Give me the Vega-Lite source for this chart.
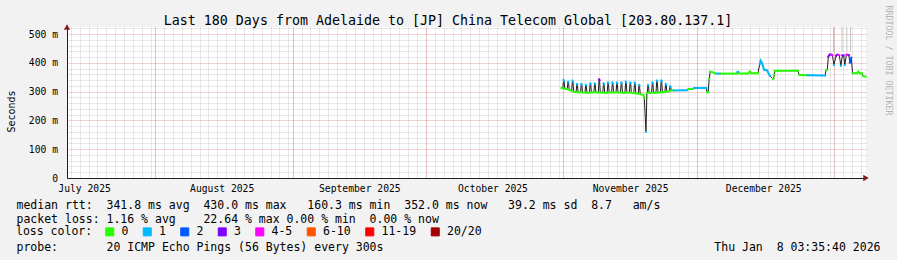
{
  "$schema": "https://vega.github.io/schema/vega-lite/v6.json",
  "width": 799,
  "height": 151,
  "autosize": {"type": "none"},
  "padding": {"left": 67, "top": 27, "right": 31, "bottom": 82},
  "background": "#f2f2f2",
  "view": {"fill": "#ffffff", "stroke": null},
  "config": {
    "font": "DejaVu Sans Mono",
    "axis": {"labelFont": "DejaVu Sans Mono", "titleFont": "DejaVu Sans Mono", "labelColor": "#000000", "titleColor": "#000000", "titleFontWeight": "normal", "domainColor": "#1f1f1f", "tickSize": 0, "ticks": false},
    "legend": {"labelFont": "DejaVu Sans Mono", "titleFont": "DejaVu Sans Mono"}
  },
  "datasets": {
    "median": [
      {"t":"2025-10-31T13:00Z","v":313,"loss":"0","seg":"g0"},
      {"t":"2025-10-31T20:00Z","v":312,"loss":"0","seg":"g0"},
      {"t":"2025-11-01T00:30Z","v":341,"loss":"1","seg":"p0"},
      {"t":"2025-11-01T03:00Z","v":338,"loss":"1","seg":"p0"},
      {"t":"2025-11-01T07:00Z","v":310,"loss":"0","seg":"g1"},
      {"t":"2025-11-01T20:00Z","v":309,"loss":"0","seg":"g1"},
      {"t":"2025-11-02T00:30Z","v":335,"loss":"1","seg":"p1"},
      {"t":"2025-11-02T03:00Z","v":333,"loss":"1","seg":"p1"},
      {"t":"2025-11-02T07:00Z","v":306,"loss":"0","seg":"g2"},
      {"t":"2025-11-02T20:00Z","v":303,"loss":"0","seg":"g2"},
      {"t":"2025-11-03T00:30Z","v":339,"loss":"1","seg":"p2"},
      {"t":"2025-11-03T03:00Z","v":336,"loss":"1","seg":"p2"},
      {"t":"2025-11-03T07:00Z","v":300,"loss":"0","seg":"g3"},
      {"t":"2025-11-03T20:00Z","v":299,"loss":"0","seg":"g3"},
      {"t":"2025-11-04T00:30Z","v":327,"loss":"1","seg":"p3"},
      {"t":"2025-11-04T03:00Z","v":325,"loss":"1","seg":"p3"},
      {"t":"2025-11-04T07:00Z","v":298,"loss":"0","seg":"g4"},
      {"t":"2025-11-04T20:00Z","v":298,"loss":"0","seg":"g4"},
      {"t":"2025-11-05T00:30Z","v":327,"loss":"1","seg":"p4"},
      {"t":"2025-11-05T03:00Z","v":325,"loss":"1","seg":"p4"},
      {"t":"2025-11-05T07:00Z","v":297,"loss":"0","seg":"g5"},
      {"t":"2025-11-05T20:00Z","v":297,"loss":"0","seg":"g5"},
      {"t":"2025-11-06T00:30Z","v":324,"loss":"1","seg":"p5"},
      {"t":"2025-11-06T03:00Z","v":322,"loss":"1","seg":"p5"},
      {"t":"2025-11-06T07:00Z","v":296,"loss":"0","seg":"g6"},
      {"t":"2025-11-06T20:00Z","v":297,"loss":"0","seg":"g6"},
      {"t":"2025-11-07T00:30Z","v":329,"loss":"1","seg":"p6"},
      {"t":"2025-11-07T03:00Z","v":327,"loss":"1","seg":"p6"},
      {"t":"2025-11-07T07:00Z","v":297,"loss":"0","seg":"g7"},
      {"t":"2025-11-07T20:00Z","v":298,"loss":"0","seg":"g7"},
      {"t":"2025-11-08T00:30Z","v":329,"loss":"1","seg":"p7"},
      {"t":"2025-11-08T03:00Z","v":327,"loss":"1","seg":"p7"},
      {"t":"2025-11-08T07:00Z","v":298,"loss":"0","seg":"g8"},
      {"t":"2025-11-08T20:00Z","v":297,"loss":"0","seg":"g8"},
      {"t":"2025-11-09T00:30Z","v":343,"loss":"3","seg":"p8"},
      {"t":"2025-11-09T03:00Z","v":340,"loss":"3","seg":"p8"},
      {"t":"2025-11-09T07:00Z","v":297,"loss":"0","seg":"g9"},
      {"t":"2025-11-09T20:00Z","v":297,"loss":"0","seg":"g9"},
      {"t":"2025-11-10T00:30Z","v":329,"loss":"1","seg":"p9"},
      {"t":"2025-11-10T03:00Z","v":327,"loss":"1","seg":"p9"},
      {"t":"2025-11-10T07:00Z","v":296,"loss":"0","seg":"g10"},
      {"t":"2025-11-10T20:00Z","v":296,"loss":"0","seg":"g10"},
      {"t":"2025-11-11T00:30Z","v":332,"loss":"1","seg":"p10"},
      {"t":"2025-11-11T03:00Z","v":330,"loss":"1","seg":"p10"},
      {"t":"2025-11-11T07:00Z","v":297,"loss":"0","seg":"g11"},
      {"t":"2025-11-11T20:00Z","v":297,"loss":"0","seg":"g11"},
      {"t":"2025-11-12T00:30Z","v":332,"loss":"1","seg":"p11"},
      {"t":"2025-11-12T03:00Z","v":330,"loss":"1","seg":"p11"},
      {"t":"2025-11-12T07:00Z","v":297,"loss":"0","seg":"g12"},
      {"t":"2025-11-12T20:00Z","v":298,"loss":"0","seg":"g12"},
      {"t":"2025-11-13T00:30Z","v":332,"loss":"1","seg":"p12"},
      {"t":"2025-11-13T03:00Z","v":329,"loss":"1","seg":"p12"},
      {"t":"2025-11-13T07:00Z","v":298,"loss":"0","seg":"g13"},
      {"t":"2025-11-13T20:00Z","v":297,"loss":"0","seg":"g13"},
      {"t":"2025-11-14T00:30Z","v":332,"loss":"1","seg":"p13"},
      {"t":"2025-11-14T03:00Z","v":330,"loss":"1","seg":"p13"},
      {"t":"2025-11-14T07:00Z","v":296,"loss":"0","seg":"g14"},
      {"t":"2025-11-14T20:00Z","v":296,"loss":"0","seg":"g14"},
      {"t":"2025-11-15T00:30Z","v":335,"loss":"1","seg":"p14"},
      {"t":"2025-11-15T03:00Z","v":332,"loss":"1","seg":"p14"},
      {"t":"2025-11-15T07:00Z","v":297,"loss":"0","seg":"g15"},
      {"t":"2025-11-15T20:00Z","v":297,"loss":"0","seg":"g15"},
      {"t":"2025-11-16T00:30Z","v":332,"loss":"1","seg":"p15"},
      {"t":"2025-11-16T03:00Z","v":330,"loss":"1","seg":"p15"},
      {"t":"2025-11-16T07:00Z","v":296,"loss":"0","seg":"g16"},
      {"t":"2025-11-16T20:00Z","v":295,"loss":"0","seg":"g16"},
      {"t":"2025-11-17T00:30Z","v":332,"loss":"1","seg":"p16"},
      {"t":"2025-11-17T03:00Z","v":329,"loss":"1","seg":"p16"},
      {"t":"2025-11-17T07:00Z","v":294,"loss":"0","seg":"g17"},
      {"t":"2025-11-17T20:00Z","v":293,"loss":"0","seg":"g17"},
      {"t":"2025-11-18T00:30Z","v":324,"loss":"1","seg":"p17"},
      {"t":"2025-11-18T03:00Z","v":322,"loss":"1","seg":"p17"},
      {"t":"2025-11-18T07:00Z","v":291,"loss":"0","seg":"g18"},
      {"t":"2025-11-19T00:00Z","v":289,"loss":"0","seg":"g18"},
      {"t":"2025-11-19T05:00Z","v":277,"loss":"0","seg":"g18"},
      {"t":"2025-11-19T14:00Z","v":160.3,"loss":"1","seg":"d1"},
      {"t":"2025-11-19T19:00Z","v":296,"loss":"0","seg":"g19"},
      {"t":"2025-11-19T21:00Z","v":296,"loss":"0","seg":"g19"},
      {"t":"2025-11-20T00:30Z","v":324,"loss":"1","seg":"p19"},
      {"t":"2025-11-20T03:00Z","v":322,"loss":"1","seg":"p19"},
      {"t":"2025-11-20T07:00Z","v":296,"loss":"0","seg":"g20"},
      {"t":"2025-11-20T20:00Z","v":296,"loss":"0","seg":"g20"},
      {"t":"2025-11-21T00:30Z","v":332,"loss":"1","seg":"p20"},
      {"t":"2025-11-21T03:00Z","v":330,"loss":"1","seg":"p20"},
      {"t":"2025-11-21T07:00Z","v":296,"loss":"0","seg":"g21"},
      {"t":"2025-11-21T20:00Z","v":297,"loss":"0","seg":"g21"},
      {"t":"2025-11-22T00:30Z","v":339,"loss":"1","seg":"p21"},
      {"t":"2025-11-22T03:00Z","v":336,"loss":"1","seg":"p21"},
      {"t":"2025-11-22T07:00Z","v":297,"loss":"0","seg":"g22"},
      {"t":"2025-11-22T20:00Z","v":298,"loss":"0","seg":"g22"},
      {"t":"2025-11-23T00:30Z","v":339,"loss":"1","seg":"p22"},
      {"t":"2025-11-23T03:00Z","v":337,"loss":"1","seg":"p22"},
      {"t":"2025-11-23T07:00Z","v":298,"loss":"0","seg":"g23"},
      {"t":"2025-11-23T20:00Z","v":299,"loss":"0","seg":"g23"},
      {"t":"2025-11-24T00:30Z","v":327,"loss":"1","seg":"p23"},
      {"t":"2025-11-24T03:00Z","v":325,"loss":"1","seg":"p23"},
      {"t":"2025-11-24T07:00Z","v":300,"loss":"0","seg":"g24"},
      {"t":"2025-11-24T20:00Z","v":301,"loss":"0","seg":"g24"},
      {"t":"2025-11-25T00:30Z","v":319,"loss":"1","seg":"p24"},
      {"t":"2025-11-25T03:00Z","v":317,"loss":"1","seg":"p24"},
      {"t":"2025-11-25T07:00Z","v":304,"loss":"0","seg":"g25"},
      {"t":"2025-11-25T17:00Z","v":305,"loss":"0","seg":"g25"},
      {"t":"2025-11-25T20:00Z","v":304,"loss":"1","seg":"b1"},
      {"t":"2025-11-28T21:00Z","v":305,"loss":"1","seg":"b1"},
      {"t":"2025-11-29T02:00Z","v":309,"loss":"0","seg":"g26"},
      {"t":"2025-11-30T05:00Z","v":310,"loss":"0","seg":"g26"},
      {"t":"2025-11-30T10:00Z","v":313,"loss":"1","seg":"b2"},
      {"t":"2025-12-03T04:00Z","v":313,"loss":"1","seg":"b2"},
      {"t":"2025-12-03T08:00Z","v":298,"loss":"0","seg":"g27"},
      {"t":"2025-12-03T14:00Z","v":298,"loss":"0","seg":"g27"},
      {"t":"2025-12-03T20:00Z","v":345,"loss":"0","seg":"r1"},
      {"t":"2025-12-04T01:00Z","v":370,"loss":"0","seg":"g28"},
      {"t":"2025-12-04T12:00Z","v":368,"loss":"0","seg":"g28"},
      {"t":"2025-12-05T04:00Z","v":364,"loss":"0","seg":"g28"},
      {"t":"2025-12-05T12:00Z","v":363,"loss":"1","seg":"b3"},
      {"t":"2025-12-06T06:00Z","v":363,"loss":"1","seg":"b3"},
      {"t":"2025-12-06T12:00Z","v":363,"loss":"0","seg":"g29"},
      {"t":"2025-12-10T02:00Z","v":363,"loss":"0","seg":"g29"},
      {"t":"2025-12-10T05:00Z","v":369,"loss":"1","seg":"b4"},
      {"t":"2025-12-10T09:00Z","v":369,"loss":"1","seg":"b4"},
      {"t":"2025-12-10T14:00Z","v":363,"loss":"0","seg":"g30"},
      {"t":"2025-12-12T14:00Z","v":363,"loss":"0","seg":"g30"},
      {"t":"2025-12-13T00:00Z","v":371,"loss":"0","seg":"g30"},
      {"t":"2025-12-13T08:00Z","v":364,"loss":"0","seg":"g30"},
      {"t":"2025-12-14T19:00Z","v":364,"loss":"0","seg":"g30"},
      {"t":"2025-12-15T05:00Z","v":396,"loss":"1","seg":"b5"},
      {"t":"2025-12-15T10:00Z","v":408,"loss":"1","seg":"b5"},
      {"t":"2025-12-15T17:00Z","v":400,"loss":"1","seg":"b5"},
      {"t":"2025-12-16T05:00Z","v":376,"loss":"1","seg":"b5"},
      {"t":"2025-12-16T20:00Z","v":375,"loss":"1","seg":"b5"},
      {"t":"2025-12-17T12:00Z","v":355,"loss":"1","seg":"b5"},
      {"t":"2025-12-18T05:00Z","v":344,"loss":"0","seg":"g31"},
      {"t":"2025-12-18T08:00Z","v":346,"loss":"0","seg":"g31"},
      {"t":"2025-12-18T12:00Z","v":360,"loss":"0","seg":"r2"},
      {"t":"2025-12-18T15:00Z","v":373,"loss":"0","seg":"g32"},
      {"t":"2025-12-23T19:00Z","v":373,"loss":"0","seg":"g32"},
      {"t":"2025-12-24T03:00Z","v":358,"loss":"0","seg":"g33"},
      {"t":"2025-12-25T19:00Z","v":357,"loss":"0","seg":"g33"},
      {"t":"2025-12-26T00:00Z","v":357,"loss":"1","seg":"b6"},
      {"t":"2025-12-29T22:00Z","v":356,"loss":"1","seg":"b6"},
      {"t":"2025-12-30T04:00Z","v":376,"loss":"0","seg":"g34"},
      {"t":"2025-12-30T10:00Z","v":376,"loss":"0","seg":"g34"},
      {"t":"2025-12-30T16:00Z","v":422,"loss":"3","seg":"q1"},
      {"t":"2025-12-31T00:00Z","v":430,"loss":"3","seg":"q1"},
      {"t":"2025-12-31T06:00Z","v":429,"loss":"3","seg":"q1"},
      {"t":"2025-12-31T09:00Z","v":429,"loss":"4-5","seg":"m1"},
      {"t":"2025-12-31T14:00Z","v":427,"loss":"4-5","seg":"m1"},
      {"t":"2025-12-31T22:00Z","v":393,"loss":"1","seg":"s1"},
      {"t":"2026-01-01T10:00Z","v":425,"loss":"3","seg":"q2"},
      {"t":"2026-01-01T16:00Z","v":429,"loss":"3","seg":"q2"},
      {"t":"2026-01-01T22:00Z","v":428,"loss":"4-5","seg":"m2"},
      {"t":"2026-01-02T03:00Z","v":427,"loss":"4-5","seg":"m2"},
      {"t":"2026-01-02T12:00Z","v":390,"loss":"1","seg":"s2"},
      {"t":"2026-01-02T20:00Z","v":427,"loss":"3","seg":"q3"},
      {"t":"2026-01-03T03:00Z","v":426,"loss":"3","seg":"q3"},
      {"t":"2026-01-03T09:00Z","v":393,"loss":"1","seg":"s3"},
      {"t":"2026-01-03T18:00Z","v":430,"loss":"4-5","seg":"m3"},
      {"t":"2026-01-04T02:00Z","v":428,"loss":"4-5","seg":"m3"},
      {"t":"2026-01-04T07:00Z","v":427,"loss":"3","seg":"q4"},
      {"t":"2026-01-04T12:00Z","v":401,"loss":"2","seg":"b7"},
      {"t":"2026-01-04T20:00Z","v":418,"loss":"2","seg":"b7"},
      {"t":"2026-01-05T03:00Z","v":364,"loss":"0","seg":"g35"},
      {"t":"2026-01-06T04:00Z","v":364,"loss":"0","seg":"g35"},
      {"t":"2026-01-06T10:00Z","v":370,"loss":"0","seg":"g35"},
      {"t":"2026-01-06T16:00Z","v":364,"loss":"0","seg":"g35"},
      {"t":"2026-01-07T05:00Z","v":364,"loss":"0","seg":"g35"},
      {"t":"2026-01-07T12:00Z","v":355,"loss":"0","seg":"g36"},
      {"t":"2026-01-08T02:00Z","v":352,"loss":"0","seg":"g36"}
    ],
    "smoke": [
      {"t":"2025-12-31T20:00Z","lo":440,"hi":525},
      {"t":"2026-01-02T18:00Z","lo":440,"hi":525},
      {"t":"2026-01-03T20:00Z","lo":440,"hi":525},
      {"t":"2026-01-04T16:00Z","lo":440,"hi":525}
    ],
    "arrowRight": [{"t":"2026-01-08T03:35:40Z","v":0}],
    "arrowUp": [{"t":"2025-07-12T03:35:40Z","v":525}]
  },
  "layer": [
    {
      "data": {"name": "smoke"},
      "mark": {"type": "rule", "color": "#c4c4c4", "strokeWidth": 1},
      "encoding": {
        "x": {"field": "t", "type": "temporal",
              "scale": {"type": "utc", "domain": [{"year":2025,"month":7,"date":12,"hours":3,"minutes":35,"seconds":40,"utc":true},{"year":2026,"month":1,"date":8,"hours":3,"minutes":35,"seconds":40,"utc":true}]},
              "axis": {"orient": "bottom", "tickCount": {"interval": "day", "step": 2}, "grid": true, "gridColor": "#8f8f8f", "gridOpacity": 0.4, "gridDash": [1, 1], "labels": false, "domain": false, "ticks": false,
                       "title": "probe:\u00a0\u00a0\u00a0\u00a0\u00a0\u00a0\u00a020 ICMP Echo Pings (56 Bytes) every 300s", "titleFontSize": 11.5, "titleAlign": "left", "titleAnchor": "start", "titleBaseline": "alphabetic", "titleX": -51, "titleY": 72}},
        "y": {"field": "lo", "type": "quantitative",
              "scale": {"domain": [0, 525], "nice": false},
              "axis": {"orient": "left", "values": [20,40,60,80,120,140,160,180,220,240,260,280,320,340,360,380,420,440,460,480,520], "grid": true, "gridColor": "#8f8f8f", "gridOpacity": 0.4, "gridDash": [1, 1], "labels": false, "domain": false, "ticks": false, "title": null}},
        "y2": {"field": "hi"}
      }
    },
    {
      "data": {"name": "median"},
      "mark": {"type": "line", "color": "#202020", "strokeWidth": 1},
      "encoding": {
        "x": {"field": "t", "type": "temporal",
              "scale": {"type": "utc", "domain": [{"year":2025,"month":7,"date":12,"hours":3,"minutes":35,"seconds":40,"utc":true},{"year":2026,"month":1,"date":8,"hours":3,"minutes":35,"seconds":40,"utc":true}]},
              "axis": {"orient": "bottom",
                       "values": [{"year":2025,"month":8,"date":1,"utc":true},{"year":2025,"month":9,"date":1,"utc":true},{"year":2025,"month":10,"date":1,"utc":true},{"year":2025,"month":11,"date":1,"utc":true},{"year":2025,"month":12,"date":1,"utc":true},{"year":2026,"month":1,"date":1,"utc":true}],
                       "grid": true, "gridColor": "#de4f4f", "gridOpacity": 0.5, "gridDash": [1, 1], "labels": false, "domain": false, "ticks": false,
                       "title": "Thu Jan\u00a0\u00a08 03:35:40 2026", "titleFontSize": 11.5, "titleAlign": "right", "titleAnchor": "end", "titleBaseline": "alphabetic", "titleX": 813, "titleY": 72}},
        "y": {"field": "v", "type": "quantitative",
              "scale": {"domain": [0, 525], "nice": false},
              "axis": {"orient": "left", "values": [100, 200, 300, 400, 500], "grid": true, "gridColor": "#de4f4f", "gridOpacity": 0.5, "gridDash": [1, 1], "labels": false, "domain": false, "ticks": false, "title": null}}
      }
    },
    {
      "data": {"name": "median"},
      "mark": {"type": "line", "strokeWidth": 2, "strokeCap": "square"},
      "encoding": {
        "x": {"field": "t", "type": "temporal",
              "scale": {"type": "utc", "domain": [{"year":2025,"month":7,"date":12,"hours":3,"minutes":35,"seconds":40,"utc":true},{"year":2026,"month":1,"date":8,"hours":3,"minutes":35,"seconds":40,"utc":true}]},
              "axis": {"orient": "bottom",
                       "values": [{"year":2025,"month":7,"date":16,"utc":true},{"year":2025,"month":8,"date":16,"utc":true},{"year":2025,"month":9,"date":16,"utc":true},{"year":2025,"month":10,"date":16,"utc":true},{"year":2025,"month":11,"date":16,"utc":true},{"year":2025,"month":12,"date":16,"utc":true}],
                       "format": "%B %Y", "labelFontSize": 9.7, "labelPadding": 5, "labelFlush": false, "labelOverlap": false,
                       "grid": false, "ticks": false, "domain": true, "domainColor": "#1f1f1f", "domainWidth": 1,
                       "title": ["median rtt:\u00a0\u00a0341.8 ms avg\u00a0\u00a0430.0 ms max\u00a0\u00a0\u00a0160.3 ms min\u00a0\u00a0352.0 ms now\u00a0\u00a0\u00a039.2 ms sd\u00a0\u00a08.7\u00a0\u00a0\u00a0am/s", "packet loss: 1.16 % avg\u00a0\u00a0\u00a0\u00a022.64 % max 0.00 % min\u00a0\u00a00.00 % now"],
                       "titleFontSize": 11.5, "titleLineHeight": 14, "titleAlign": "left", "titleAnchor": "start", "titleBaseline": "alphabetic", "titleX": -51, "titleY": 30}},
        "y": {"field": "v", "type": "quantitative",
              "scale": {"domain": [0, 525], "nice": false},
              "axis": {"orient": "left", "values": [0, 100, 200, 300, 400, 500], "labelExpr": "datum.value == 0 ? '0\u00a0\u00a0' : datum.value + ' m'", "labelFontSize": 9.7, "labelPadding": 9.5,
                       "grid": false, "ticks": false, "domain": true, "domainColor": "#1f1f1f",
                       "title": "Seconds", "titleFontSize": 10, "titleAngle": -90, "titleAlign": "center", "titleBaseline": "middle", "titleX": -56, "titleY": 84}},
        "color": {"field": "loss", "type": "nominal",
                  "scale": {"domain": ["0","1","2","3","4-5","6-10","11-19","20/20"], "range": ["#26ff00","#00b8ff","#0059ff","#7e00ff","#ff00ff","#ff5500","#ff0000","#a10000"]},
                  "legend": {"orient": "none", "legendX": -51, "legendY": 199, "direction": "horizontal", "columns": 8, "padding": 0,
                             "title": "loss color:", "titleOrient": "left", "titleFontSize": 11.5, "titleFontWeight": "normal", "titleColor": "#000000", "titlePadding": 11, "titleBaseline": "middle",
                             "symbolType": "square", "symbolSize": 64, "symbolStrokeColor": "#000000", "symbolStrokeWidth": 1, "symbolOpacity": 1,
                             "labelFontSize": 11.5, "labelColor": "#000000", "labelOffset": 6, "columnPadding": 11.5,
                             "encode": {"symbols": {"update": {"fill": {"scale": "color", "field": "value"}, "stroke": {"value": "#000000"}, "strokeWidth": {"value": 1}, "opacity": {"value": 1}}}}}},
        "detail": {"field": "seg", "type": "nominal"}
      }
    },
    {
      "data": {"name": "arrowRight"},
      "mark": {"type": "point", "shape": "triangle-right", "filled": true, "color": "#801f1f", "opacity": 1, "size": 40, "dx": 4, "clip": false},
      "encoding": {
        "x": {"field": "t", "type": "temporal",
              "scale": {"type": "utc", "domain": [{"year":2025,"month":7,"date":12,"hours":3,"minutes":35,"seconds":40,"utc":true},{"year":2026,"month":1,"date":8,"hours":3,"minutes":35,"seconds":40,"utc":true}]},
              "axis": null},
        "y": {"field": "v", "type": "quantitative",
              "scale": {"domain": [0, 525], "nice": false},
              "axis": {"orient": "right", "labels": false, "grid": false, "ticks": false, "domain": false,
                       "title": "RRDTOOL / TOBI OETIKER", "titleFontSize": 8.3, "titleColor": "#b4b4b4", "titleAngle": 90, "titleAlign": "left", "titleBaseline": "middle", "titleX": 21, "titleY": -22}}
      }
    },
    {
      "data": {"name": "arrowUp"},
      "mark": {"type": "point", "shape": "triangle-up", "filled": true, "color": "#801f1f", "opacity": 1, "size": 40, "dy": -4, "clip": false},
      "encoding": {
        "x": {"field": "t", "type": "temporal",
              "scale": {"type": "utc", "domain": [{"year":2025,"month":7,"date":12,"hours":3,"minutes":35,"seconds":40,"utc":true},{"year":2026,"month":1,"date":8,"hours":3,"minutes":35,"seconds":40,"utc":true}]},
              "axis": {"orient": "top", "labels": false, "grid": false, "ticks": false, "domain": false,
                       "title": "Last 180 Days from Adelaide to [JP] China Telecom Global [203.80.137.1]", "titleFontSize": 13.3, "titleAlign": "center", "titleAnchor": "middle", "titleBaseline": "alphabetic", "titleX": 380.5, "titleY": -3}},
        "y": {"field": "v", "type": "quantitative",
              "scale": {"domain": [0, 525], "nice": false},
              "axis": null}
      }
    }
  ],
  "resolve": {"axis": {"x": "independent", "y": "independent"}}
}
